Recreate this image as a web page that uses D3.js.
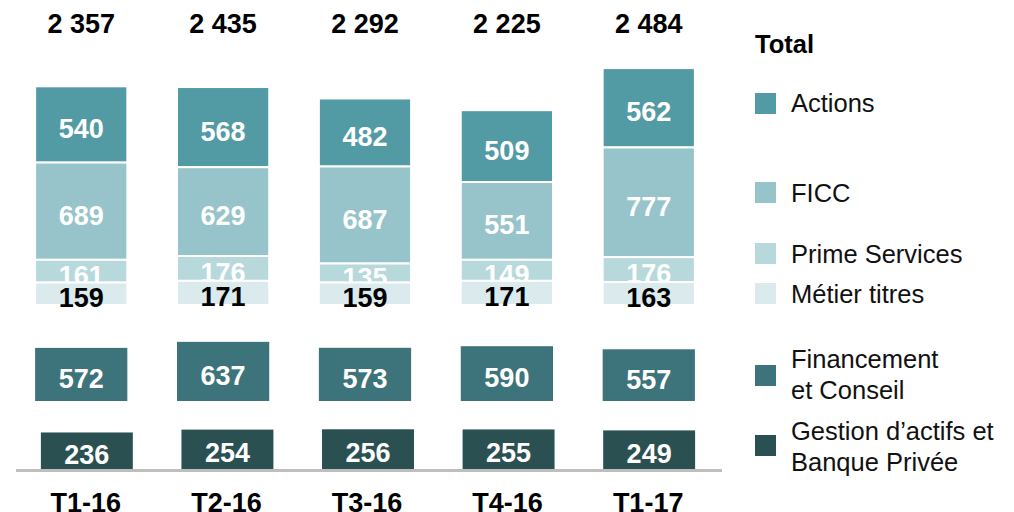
<!DOCTYPE html>
<html>
<head>
<meta charset="utf-8">
<script src="https://cdn.jsdelivr.net/npm/d3@7"></script>
<style>
  body { margin: 0; background: #fff; }
  text { font-family: "Liberation Sans", Arial, sans-serif; }
</style>
</head>
<body>
<div id="chart"></div>
<script>
const categories = ['T1-16', 'T2-16', 'T3-16', 'T4-16', 'T1-17']
const totals = [2357, 2435, 2292, 2225, 2484]
const actions = [540, 568, 482, 509, 562]
const ficc = [689, 629, 687, 551, 777]
const primeServices = [161, 176, 135, 149, 176]
const metierTitres = [159, 171, 159, 171, 163]
const financement = [572, 637, 573, 590, 557]
const gestion = [236, 254, 256, 255, 249]

const seriesNames = ['Actions', 'FICC', 'Prime Services', 'Métier titres', ['Financement', 'et Conseil'], ['Gestion d\u2019actifs et', 'Banque Privée']]
const seriesColors = ['#529ba5', '#97c4ca', '#b7d9dc', '#dbeaed', '#3d737a', '#2b5052']

const width = 1014
const height = 512

const svg = d3.select('#chart')
    .append('svg')
    .attr('width', width)
    .attr('height', height)

const fmt = d3.formatLocale({ decimal: ',', thousands: ' ', grouping: [3], currency: ['', ' €'] }).format(',d')

// X-scales (the two lower bars sit slightly to the right)
const xScale = d3.scaleBand()
    .domain(categories)
    .range([10, 720])
    .paddingInner(0.35)
    .paddingOuter(0.177)
const xScaleLow = d3.scaleBand()
    .domain(categories)
    .range([16, 720])
    .paddingInner(0.346)
    .paddingOuter(0.177)

// Three separate panels, each with its own scale
const yTop = d3.scaleLinear().domain([0, 1700]).range([305, 65])
const yFin = d3.scaleLinear().domain([0, 700]).range([401, 336])
const yGest = d3.scaleLinear().domain([0, 300]).range([470, 422.3])

// Upper stack
const table = categories.map((c, i) => ({
    cat: c, metier: metierTitres[i], prime: primeServices[i], ficc: ficc[i], actions: actions[i]
}))
const keys = ['metier', 'prime', 'ficc', 'actions']
const keyColor = { actions: seriesColors[0], ficc: seriesColors[1], prime: seriesColors[2], metier: seriesColors[3] }
const keyText = { actions: '#fff', ficc: '#fff', prime: '#fff', metier: '#000' }
const stacked = d3.stack().keys(keys)(table)

// draw from top to bottom so lower segments cover labels above them
stacked.slice().reverse().forEach(layer => {
    const g = svg.append('g')
    g.selectAll('rect')
        .data(layer)
        .enter()
        .append('rect')
        .attr('x', d => xScale(d.data.cat))
        .attr('y', d => yTop(d[1]))
        .attr('width', xScale.bandwidth())
        .attr('height', d => yTop(d[0]) - yTop(d[1]))
        .attr('fill', keyColor[layer.key])
        .attr('stroke', '#fff')
        .attr('stroke-width', 2)
    g.selectAll('text')
        .data(layer)
        .enter()
        .append('text')
        .attr('x', d => xScale(d.data.cat) + xScale.bandwidth() / 2)
        .attr('y', d => (yTop(d[0]) + yTop(d[1])) / 2 + 13.5)
        .attr('text-anchor', 'middle')
        .attr('font-size', 27)
        .attr('font-weight', 'bold')
        .attr('fill', keyText[layer.key])
        .text(d => d.data[layer.key])
})

// Totals
svg.append('g')
    .selectAll('text')
    .data(totals)
    .enter()
    .append('text')
    .attr('x', (d, i) => xScale(categories[i]) + xScale.bandwidth() / 2)
    .attr('y', 33)
    .attr('text-anchor', 'middle')
    .attr('font-size', 27)
    .attr('font-weight', 'bold')
    .attr('fill', '#000')
    .text(d => fmt(d))

// Financement et Conseil
const gFin = svg.append('g')
gFin.selectAll('rect')
    .data(financement)
    .enter()
    .append('rect')
    .attr('x', (d, i) => xScale(categories[i]))
    .attr('y', d => yFin(d))
    .attr('width', xScale.bandwidth())
    .attr('height', d => yFin(0) - yFin(d))
    .attr('fill', seriesColors[4])
gFin.selectAll('text')
    .data(financement)
    .enter()
    .append('text')
    .attr('x', (d, i) => xScale(categories[i]) + xScale.bandwidth() / 2)
    .attr('y', d => (yFin(0) + yFin(d)) / 2 + 13.5)
    .attr('text-anchor', 'middle')
    .attr('font-size', 27)
    .attr('font-weight', 'bold')
    .attr('fill', '#fff')
    .text(d => d)

// Gestion d'actifs et Banque Privée
const gGest = svg.append('g')
gGest.selectAll('rect')
    .data(gestion)
    .enter()
    .append('rect')
    .attr('x', (d, i) => xScaleLow(categories[i]))
    .attr('y', d => yGest(d))
    .attr('width', xScaleLow.bandwidth())
    .attr('height', d => yGest(0) - yGest(d))
    .attr('fill', seriesColors[5])
gGest.selectAll('text')
    .data(gestion)
    .enter()
    .append('text')
    .attr('x', (d, i) => xScaleLow(categories[i]) + xScaleLow.bandwidth() / 2)
    .attr('y', d => (yGest(0) + yGest(d)) / 2 + 12.5)
    .attr('text-anchor', 'middle')
    .attr('font-size', 27)
    .attr('font-weight', 'bold')
    .attr('fill', '#fff')
    .text(d => d)

// Baseline
svg.append('line')
    .attr('x1', 16)
    .attr('x2', 722)
    .attr('y1', 470.5)
    .attr('y2', 470.5)
    .attr('stroke', '#c0bdbd')
    .attr('stroke-width', 3)

// Category labels
svg.append('g')
    .selectAll('text')
    .data(categories)
    .enter()
    .append('text')
    .attr('x', d => xScaleLow(d) + xScaleLow.bandwidth() / 2 - 1)
    .attr('y', 512)
    .attr('text-anchor', 'middle')
    .attr('font-size', 27)
    .attr('font-weight', 'bold')
    .attr('fill', '#000')
    .text(d => d)

// Legend
const legend = svg.append('g')
legend.append('text')
    .attr('x', 755)
    .attr('y', 53)
    .attr('font-size', 25.5)
    .attr('font-weight', 'bold')
    .text('Total')

const swatchY = [93, 182, 243, 283, 365, 435]
const labelY = [112, 202, 263, 303, 368, 440]
seriesNames.forEach((name, i) => {
    legend.append('rect')
        .attr('x', 755)
        .attr('y', swatchY[i])
        .attr('width', 21)
        .attr('height', 21)
        .attr('fill', seriesColors[i])
    const lines = Array.isArray(name) ? name : [name]
    const t = legend.append('text')
        .attr('x', 791)
        .attr('y', labelY[i])
        .attr('font-size', 25.5)
        .attr('fill', '#111')
    lines.forEach((l, j) => {
        t.append('tspan')
            .attr('x', 791)
            .attr('dy', j === 0 ? 0 : 31)
            .text(l)
    })
})
</script>
</body>
</html>
